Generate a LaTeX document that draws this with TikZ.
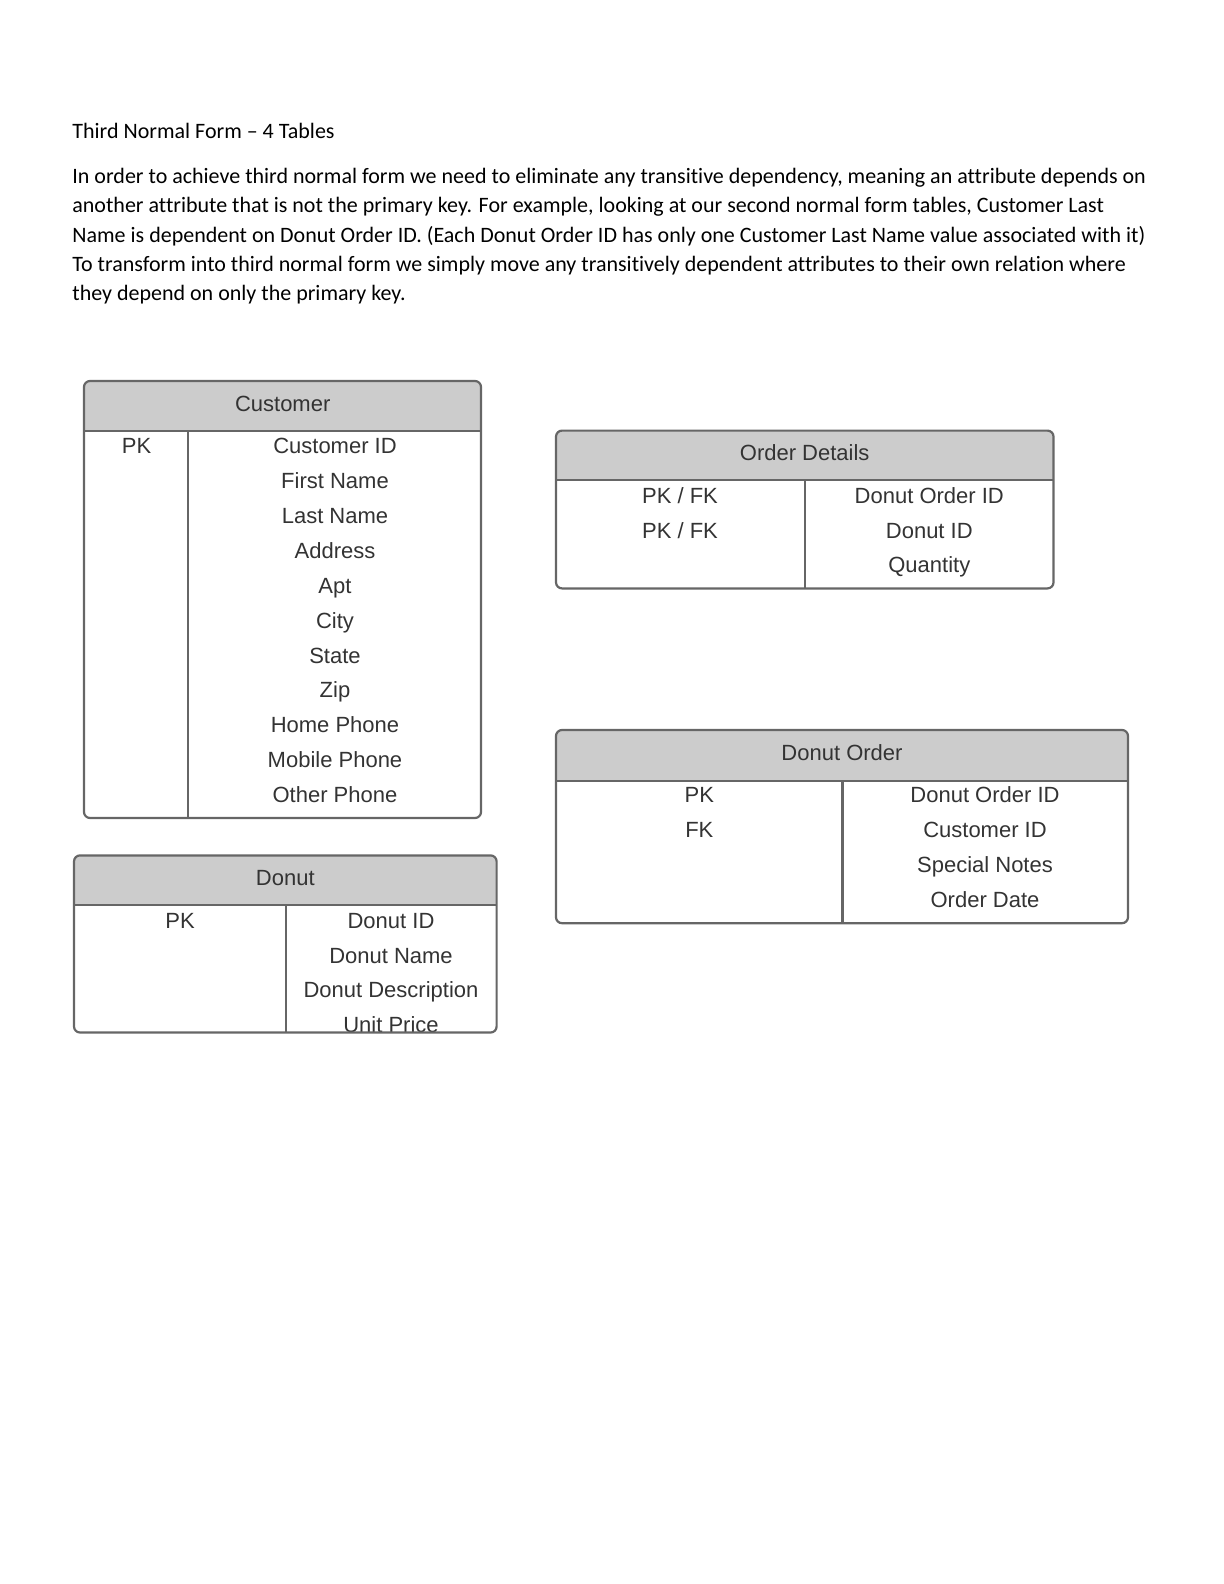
\documentclass[tikz,border=0pt]{standalone}
\usepackage{fontspec}
\setmainfont{Carlito}[Ligatures=NoCommon]
\newfontfamily\tblfont{Liberation Sans}
\usetikzlibrary{positioning}
\definecolor{tblline}{HTML}{666666}
\definecolor{tblhead}{HTML}{CCCCCC}
\definecolor{tbltext}{HTML}{333333}

\begin{document}
\begin{tikzpicture}[x=0.5pt,y=-0.5pt]
\tikzstyle{para}=[anchor=base west,inner sep=0pt,
font=\fontsize{11}{13}\selectfont]
\tikzstyle{cell}=[inner sep=0pt,text height=7.9pt,text depth=0pt,
node distance=17.45pt,text=tbltext,font=\tblfont\fontsize{11}{13}\selectfont]
\tikzstyle{frame}=[draw=tblline,line width=1.1pt,rounded corners=3pt]
\tikzstyle{rule}=[draw=tblline,line width=1.1pt]
\useasboundingbox (0,0) rectangle (1224,1584);

% text above the tables
\node[para] at (72,138.7) (title) {Third Normal Form -- 4 Tables};
\node[para] at (72,183.8) (p1) {In order to achieve third normal form we need to eliminate any transitive dependency, meaning an attribute depends on};
\node[para] at (72,212.9) (p2) {another attribute that is not the primary key. For example, looking at our second normal form tables, Customer Last};
\node[para] at (72,242) (p3) {Name is dependent on Donut Order ID. (Each Donut Order ID has only one Customer Last Name value associated with it)};
\node[para] at (72,271.1) (p4) {To transform into third normal form we simply move any transitively dependent attributes to their own relation where};
\node[para] at (72,300.2) (p5) {they depend on only the primary key.};

% Customer
\begin{scope}
\clip[rounded corners=3pt] (84,381) rectangle (481,818);
\fill[tblhead] (84,381) rectangle (481,430.6);
\end{scope}
\draw[frame] (84,381) rectangle (481,818);
\draw[rule] (84,430.6) -- (481,430.6) (188,430.6) -- (188,818);
\node[cell] at (282.7,403.3) (cust) {Customer};
\node[cell] at (136.5,445.7) (custpk) {PK};
\node[cell] at (335,445.7) (c1) {Customer ID};
\node[cell,below of =c1](c2) {First Name};
\node[cell,below of =c2](c3) {Last Name};
\node[cell,below of =c3](c4) {Address};
\node[cell,below of =c4](c5) {Apt};
\node[cell,below of =c5](c6) {City};
\node[cell,below of =c6](c7) {State};
\node[cell,below of =c7](c8) {Zip};
\node[cell,below of =c8](c9) {Home Phone};
\node[cell,below of =c9](c10) {Mobile Phone};
\node[cell,below of =c10](c11) {Other Phone};

% Donut
\begin{scope}
\clip[rounded corners=3pt] (74,855.4) rectangle (496.6,1032.5);
\fill[tblhead] (74,855.4) rectangle (496.6,904.9);
\end{scope}
\node[cell] at (285.3,877.7) (don) {Donut};
\node[cell] at (180,920.2) (donpk) {PK};
\node[cell] at (391,920.2) (d1) {Donut ID};
\node[cell,below of =d1](d2) {Donut Name};
\node[cell,below of =d2](d3) {Donut Description};
\node[cell,below of =d3](d4) {Unit Price};
\draw[frame] (74,855.4) rectangle (496.6,1032.5);
\draw[rule] (74,904.9) -- (496.6,904.9) (285.7,904.9) -- (285.7,1032.5);

% Order Details
\begin{scope}
\clip[rounded corners=3pt] (556,430.6) rectangle (1053.5,588.4);
\fill[tblhead] (556,430.6) rectangle (1053.5,480.1);
\end{scope}
\draw[frame] (556,430.6) rectangle (1053.5,588.4);
\draw[rule] (556,480.1) -- (1053.5,480.1) (805.2,480.1) -- (805.2,588.4);
\node[cell] at (804.7,452.8) (odet) {Order Details};
\node[cell] at (680,495.2) (k1) {PK / FK};
\node[cell,below of =k1](k2) {PK / FK};
\node[cell] at (929.3,495.2) (o1) {Donut Order ID};
\node[cell,below of =o1](o2) {Donut ID};
\node[cell,below of =o2](o3) {Quantity};

% Donut Order
\begin{scope}
\clip[rounded corners=3pt] (556,730) rectangle (1128,923.2);
\fill[tblhead] (556,730) rectangle (1128,780.6);
\end{scope}
\draw[frame] (556,730) rectangle (1128,923.2);
\draw[rule] (556,780.6) -- (1128,780.6) (842.5,780.6) -- (842.5,923.2);
\node[cell] at (842,752.3) (dord) {Donut Order};
\node[cell] at (699.3,794.7) (dopk) {PK};
\node[cell,below of =dopk](dofk) {FK};
\node[cell] at (985,794.7) (r1) {Donut Order ID};
\node[cell,below of =r1](r2) {Customer ID};
\node[cell,below of =r2](r3) {Special Notes};
\node[cell,below of =r3](r4) {Order Date};

\end{tikzpicture}
\end{document}
